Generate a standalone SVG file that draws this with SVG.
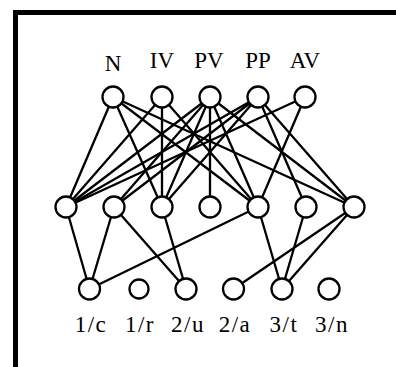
<svg xmlns="http://www.w3.org/2000/svg" width="396" height="367" viewBox="0 0 396 367">
<style>
.e{stroke:#000;stroke-width:2.3;fill:none}
.n{fill:#fff;stroke:#000;stroke-width:2.3}
.t{font-family:"Liberation Serif","Times New Roman",serif;font-size:23px;fill:#000;text-anchor:middle}
.b{font-family:"Liberation Serif","Times New Roman",serif;font-size:23px;fill:#000;text-anchor:middle;letter-spacing:1.5px}
</style>
<rect width="396" height="367" fill="#fff"/>
<path d="M15.5 367 V12.5 H396" stroke="#000" stroke-width="5" fill="none"/>
<g id="connectors">
<path class="e" d="M113 97L66 207M113 97L162 207M113 97L258 207M113 97L354 207"/>
<path class="e" d="M162 97L66 207M162 97L162 207M162 97L258 207"/>
<path class="e" d="M210 97L66 207M210 97L114 207M210 97L162 207M210 97L210 207M210 97L258 207M210 97L354 207"/>
<path class="e" d="M258 97L66 207M258 97L114 207M258 97L162 207M258 97L306 207M258 97L354 207"/>
<path class="e" d="M305 97L66 207M305 97L258 207"/>
<path class="e" d="M66 207L89.5 289M114 207L89.5 289M114 207L186 289M162 207L186 289M258 207L89.5 289M258 207L282 289M306 207L282 289M354 207L233.5 289M354 207L282 289"/>
</g>
<g id="N"><circle class="n" cx="113" cy="97" r="10.5"/><text class="t" x="113" y="70.5">N</text></g>
<g id="IV"><circle class="n" cx="162" cy="97" r="10.5"/><text class="t" x="162" y="68">IV</text></g>
<g id="PV"><circle class="n" cx="210" cy="97" r="10.5"/><text class="t" x="209" y="68">PV</text></g>
<g id="PP"><circle class="n" cx="258" cy="97" r="10.5"/><text class="t" x="258" y="68">PP</text></g>
<g id="AV"><circle class="n" cx="305" cy="97" r="10.5"/><text class="t" x="305" y="68">AV</text></g>
<g id="M1"><circle class="n" cx="66" cy="207" r="10.5"/></g>
<g id="M2"><circle class="n" cx="114" cy="207" r="10.5"/></g>
<g id="M3"><circle class="n" cx="162" cy="207" r="10.5"/></g>
<g id="M4"><circle class="n" cx="210" cy="207" r="10.5"/></g>
<g id="M5"><circle class="n" cx="258" cy="207" r="10.5"/></g>
<g id="M6"><circle class="n" cx="306" cy="207" r="10.5"/></g>
<g id="M7"><circle class="n" cx="354" cy="207" r="10.5"/></g>
<g id="B1"><circle class="n" cx="89.5" cy="289" r="10.5"/><text class="b" x="91" y="332">1/c</text></g>
<g id="B2"><circle class="n" cx="139" cy="289" r="9.5"/><text class="b" x="140" y="332">1/r</text></g>
<g id="B3"><circle class="n" cx="186" cy="289" r="10.5"/><text class="b" x="188" y="332">2/u</text></g>
<g id="B4"><circle class="n" cx="233.5" cy="289" r="10.5"/><text class="b" x="235" y="332">2/a</text></g>
<g id="B5"><circle class="n" cx="282" cy="289" r="10.5"/><text class="b" x="284" y="332">3/t</text></g>
<g id="B6"><circle class="n" cx="329" cy="289" r="10.5"/><text class="b" x="332" y="332">3/n</text></g>
</svg>
